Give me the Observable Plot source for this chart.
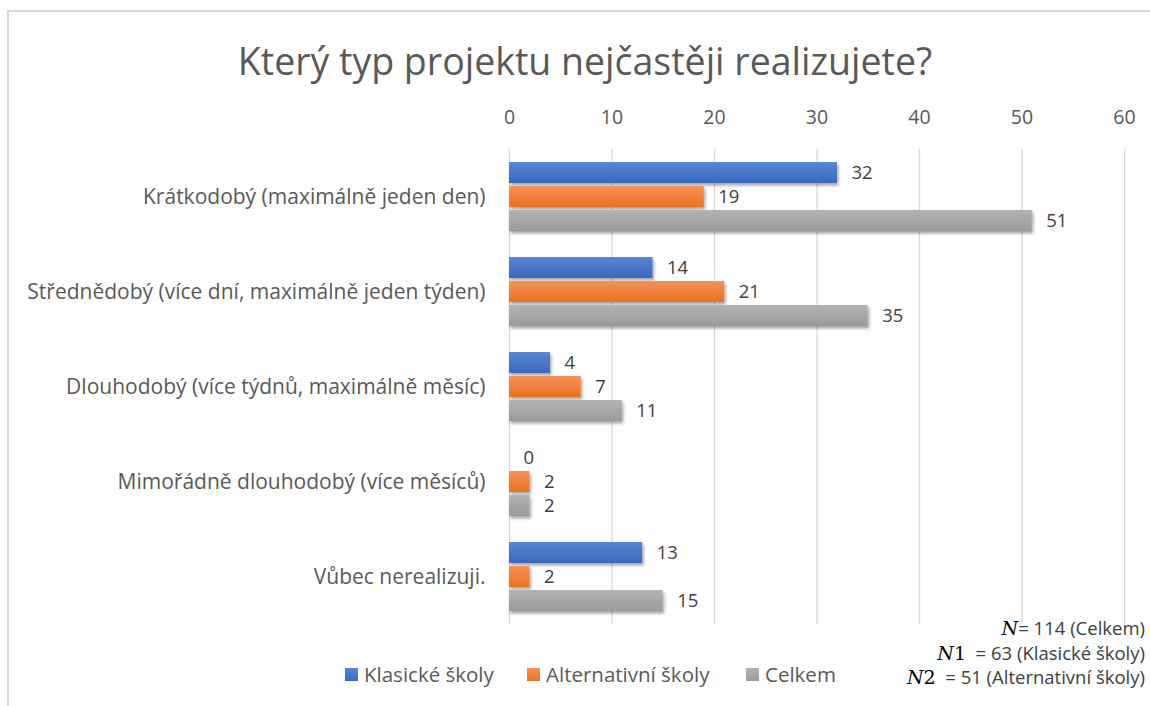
<!DOCTYPE html>
<html>
<head>
<meta charset="utf-8">
<script src="https://cdn.jsdelivr.net/npm/d3@7"></script>
<script src="https://cdn.jsdelivr.net/npm/@observablehq/plot@0.6"></script>
<style>
  html, body { margin: 0; padding: 0; background: #fff; }
  body { width: 1150px; height: 706px; position: relative; overflow: hidden; font-family: "Open Sans", Lato, sans-serif; color: #595959; }
  #frame { position: absolute; left: 7px; top: 10px; width: 1150px; height: 700px; border-left: 2px solid #d9d9d9; border-top: 2px solid #d9d9d9; }
  #title { position: absolute; left: 0; width: 1170px; top: 35px; text-align: center; font-size: 37.5px; color: #595959; }
  #chart { position: absolute; left: 0; top: 0; }
  #legend { position: absolute; top: 660px; left: 0; font-size: 20.5px; color: #595959; }
  #legend .item { position: absolute; top: 0; display: flex; align-items: center; white-space: nowrap; }
  #legend .sw { width: 13px; height: 13px; margin-right: 6px; }
  #note { position: absolute; right: 5px; top: 616px; text-align: right; font-size: 18.5px; line-height: 24.5px; color: #404040; }
  #note .m { font-family: "DejaVu Serif", "Liberation Serif", serif; font-size: 19px; color: #000; }
  #note .m i { font-style: italic; }
</style>
</head>
<body>
<div id="frame"></div>
<div id="chart"></div>
<div id="title">Který typ projektu nejčastěji realizujete?</div>
<div id="legend"></div>
<div id="note"></div>
<script>
const categories = [
  "Krátkodobý (maximálně jeden den)",
  "Střednědobý (více dní, maximálně jeden týden)",
  "Dlouhodobý (více týdnů, maximálně měsíc)",
  "Mimořádně dlouhodobý (více měsíců)",
  "Vůbec nerealizuji."
];
const series = ["Klasické školy", "Alternativní školy", "Celkem"];
const klasicke = [32, 14, 4, 0, 13];
const alternativni = [19, 21, 7, 2, 2];
const celkem = [51, 35, 11, 2, 15];
const xTicks = [0, 10, 20, 30, 40, 50, 60];
const noteLines = [
  ["N", "", "= 114 (Celkem)"],
  ["N", "1", "  = 63 (Klasické školy)"],
  ["N", "2", "  = 51 (Alternativní školy)"]
];

const valuesBySeries = [klasicke, alternativni, celkem];
const data = [];
categories.forEach((c, i) => {
  series.forEach((s, j) => data.push({category: c, series: s, value: valuesBySeries[j][i]}));
});

const font = "'Open Sans', Lato, sans-serif";
const chart = Plot.plot({
  width: 1150,
  height: 640,
  marginLeft: 509,
  marginRight: 26,
  marginTop: 148,
  marginBottom: 15,
  style: {fontFamily: font, background: "transparent", overflow: "visible"},
  x: {domain: [0, 60], label: null},
  y: {domain: series, paddingInner: 0.12, paddingOuter: 0.5, axis: null},
  fy: {domain: categories, padding: 0, label: null},
  color: {domain: series, range: ["url(#gBlue)", "url(#gOrange)", "url(#gGray)"]},
  marks: [
    Plot.gridX({ticks: xTicks, stroke: "#d9d9d9", strokeOpacity: 1, strokeWidth: 1.3}),
    Plot.axisX({anchor: "top", ticks: xTicks, tickSize: 0, tickPadding: 26, fontSize: 19.5, fill: "#595959", label: null}),
    Plot.axisFy({anchor: "left", tickSize: 0, tickPadding: 24, fontSize: 21, fill: "#595959", label: null}),
    Plot.barX(data, {x: "value", y: "series", fy: "category", fill: "series", filter: d => d.value > 0}),
    Plot.text(data, {x: "value", y: "series", fy: "category", text: d => String(d.value), textAnchor: "start", dx: 14, fontSize: 18.5, fill: "#404040"})
  ]
});

const svg = d3.select(chart);
const defs = svg.insert("defs", ":first-child");
const grads = [["gBlue", "#5a86d3", "#3b67bd"], ["gOrange", "#f4925b", "#eb711f"], ["gGray", "#b3b3b3", "#9b9b9b"]];
grads.forEach(([id, top, bot]) => {
  const g = defs.append("linearGradient").attr("id", id).attr("x1", 0).attr("y1", 0).attr("x2", 0).attr("y2", 1);
  g.append("stop").attr("offset", "0%").attr("stop-color", top);
  g.append("stop").attr("offset", "100%").attr("stop-color", bot);
});
const f = defs.append("filter").attr("id", "shadow").attr("x", "-10%").attr("y", "-30%").attr("width", "130%").attr("height", "180%");
f.append("feDropShadow").attr("dx", 1.5).attr("dy", 2.5).attr("stdDeviation", 1.8).attr("flood-color", "#000").attr("flood-opacity", 0.35);
svg.selectAll("rect").filter(function() { return (this.getAttribute("fill") || "").startsWith("url"); }).attr("filter", "url(#shadow)");

document.getElementById("chart").appendChild(chart);

const legendX = [345, 527, 746];
const legend = d3.select("#legend");
series.forEach((s, i) => {
  const it = legend.append("div").attr("class", "item").style("left", legendX[i] + "px");
  it.append("div").attr("class", "sw").style("background", `linear-gradient(${grads[i][1]}, ${grads[i][2]})`);
  it.append("span").text(s);
});

const note = d3.select("#note");
noteLines.forEach(([n, sub, rest]) => {
  const line = note.append("div").style("white-space", "pre");
  const m = line.append("span").attr("class", "m");
  m.append("i").text(n);
  if (sub) m.append("span").text(sub);
  line.append("span").text(rest);
});
</script>
</body>
</html>
